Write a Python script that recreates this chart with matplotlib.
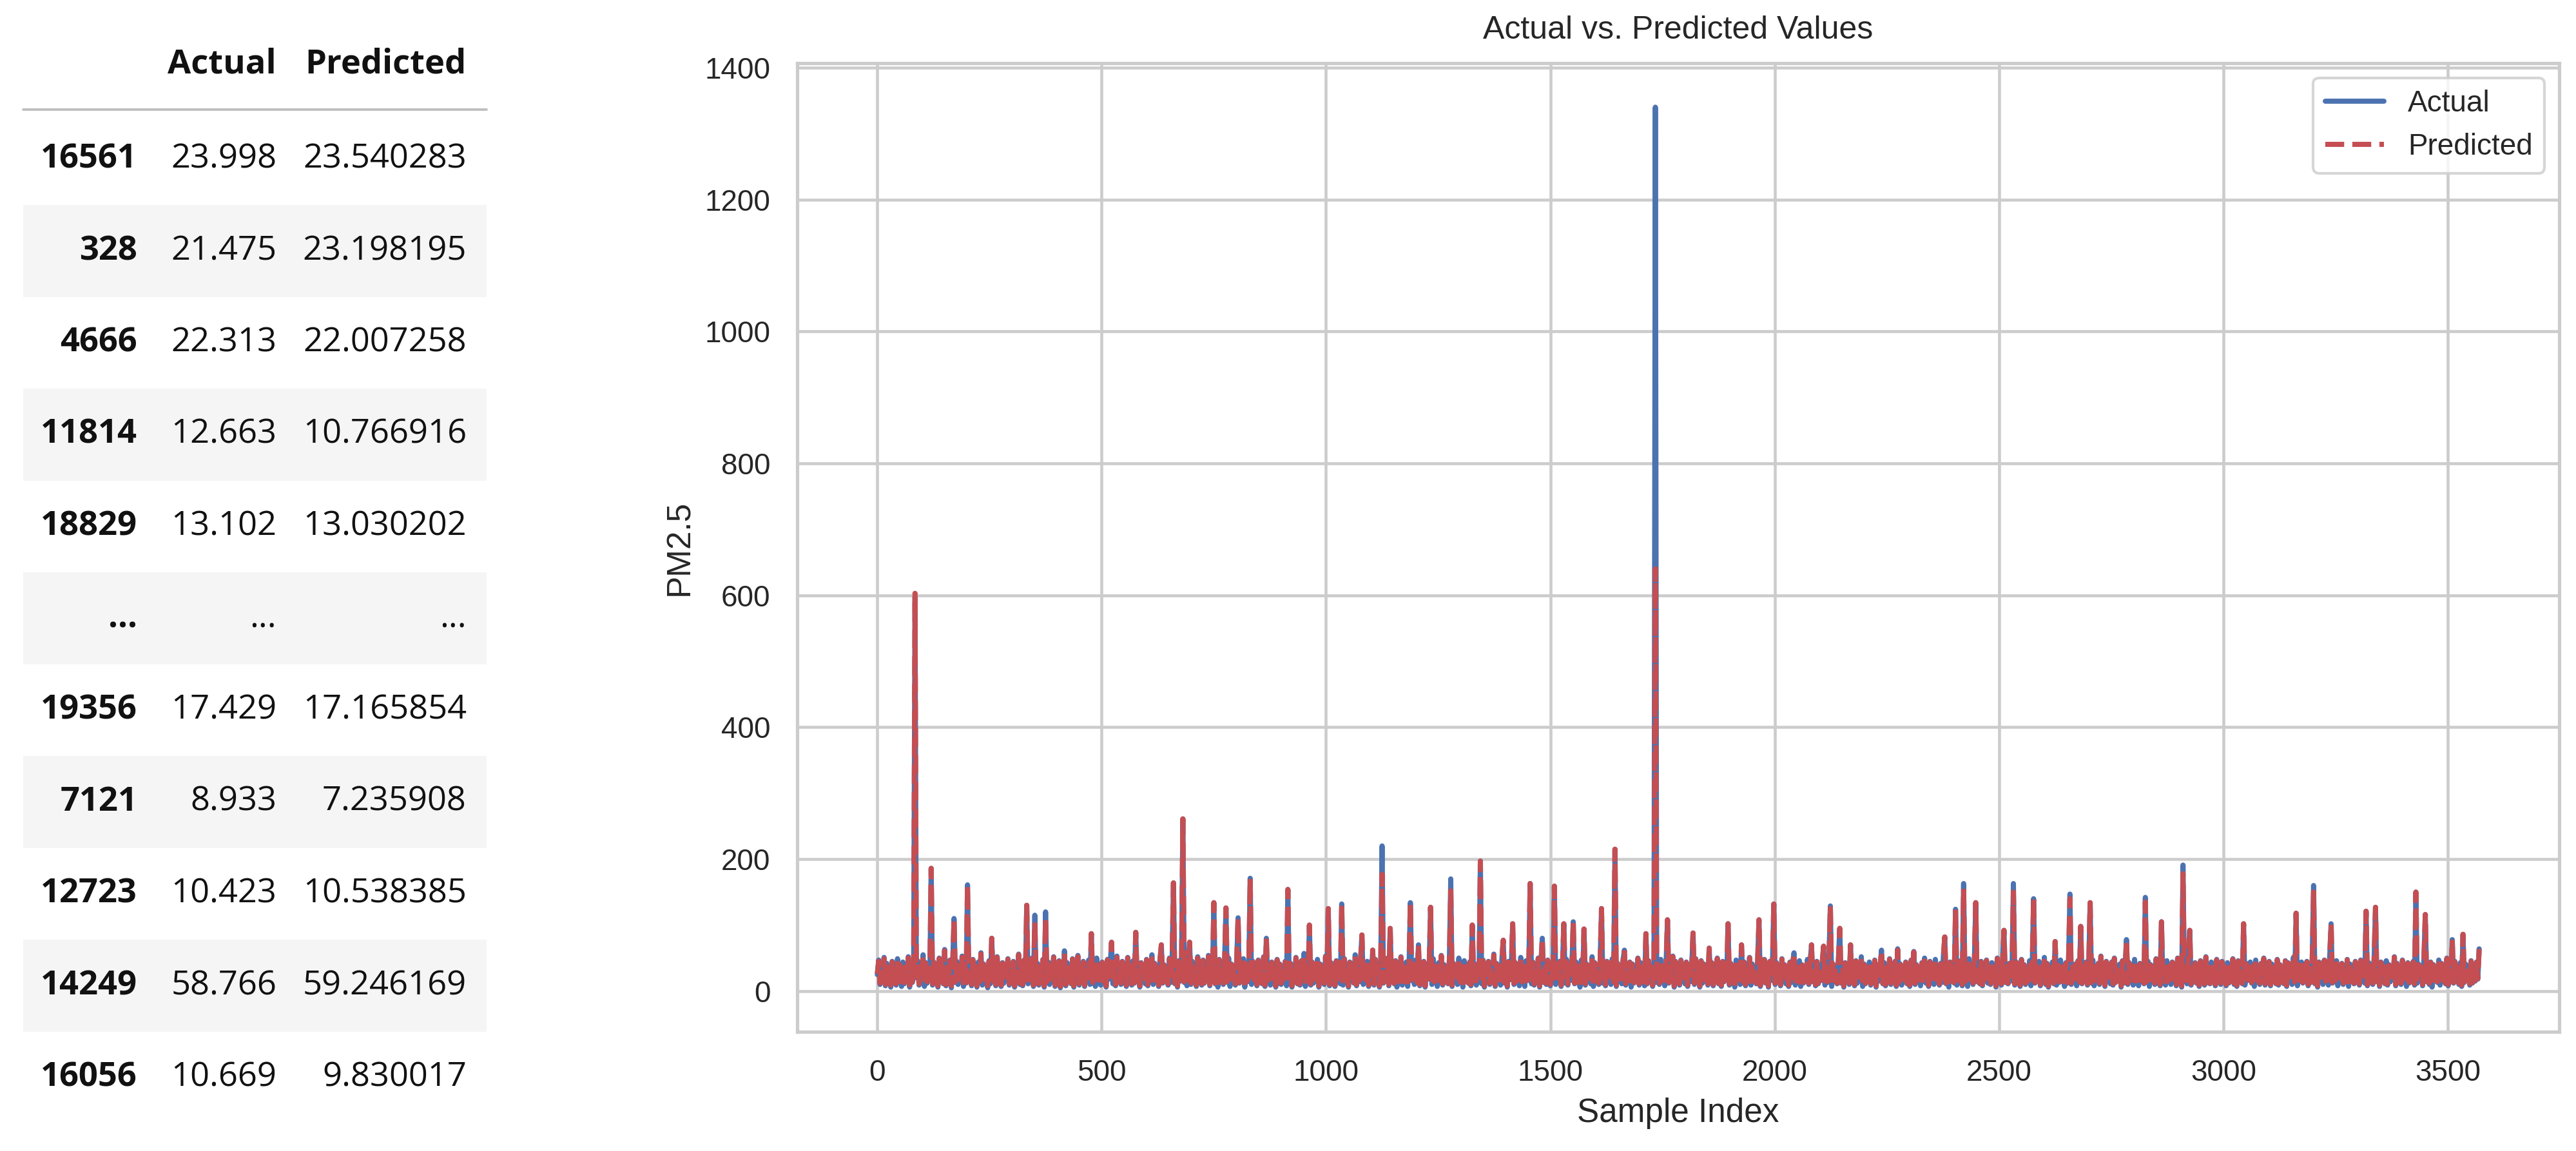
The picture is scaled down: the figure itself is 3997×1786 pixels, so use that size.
import numpy as np
import matplotlib.pyplot as plt
import seaborn as sns
from matplotlib.patches import Rectangle
from matplotlib.lines import Line2D

# left part: head and tail of the results DataFrame
table_index = ['16561', '328', '4666', '11814', '18829', '...', '19356', '7121', '12723', '14249', '16056']
table_actual = ['23.998', '21.475', '22.313', '12.663', '13.102', '...', '17.429', '8.933', '10.423', '58.766', '10.669']
table_predicted = ['23.540283', '23.198195', '22.007258', '10.766916', '13.030202', '...',
                   '17.165854', '7.235908', '10.538385', '59.246169', '9.830017']
table_columns = ['Actual', 'Predicted']

# right part: PM2.5 values, one value every 3 samples (0 .. 3570),
# each row holds 20 values = 60 samples
sample_step = 3
actual = [
    25, 47, 10, 38, 14, 51, 8, 42, 19, 36, 6, 45, 12, 33, 9, 49, 16, 40, 7, 44,
    11, 37, 18, 52, 6, 41, 13, 35, 598, 20, 46, 9, 39, 15, 55, 7, 43, 12, 34, 17,
    186, 9, 44, 14, 38, 6, 50, 18, 41, 11, 63, 8, 36, 16, 47, 5, 40, 110, 13, 45,
    10, 39, 17, 53, 7, 42, 12, 161, 15, 37, 8, 48, 19, 35, 6, 44, 13, 58, 9, 41,
    16, 36, 5, 46, 11, 80, 14, 40, 8, 52, 18, 38, 7, 43, 12, 34, 20, 49, 9, 37,
    13, 45, 6, 39, 17, 56, 10, 41, 8, 47, 15, 130, 11, 36, 19, 50, 7, 115, 12, 42,
    9, 38, 16, 48, 6, 120, 13, 44, 10, 35, 18, 52, 7, 40, 14, 46, 5, 37, 12, 61,
    8, 43, 15, 36, 11, 49, 6, 40, 17, 54, 9, 38, 13, 45, 7, 34, 19, 47, 10, 87,
    12, 41, 7, 50, 16, 37, 9, 44, 14, 35, 6, 48, 18, 39, 74, 11, 42, 8, 53, 15,
    36, 10, 45, 13, 38, 7, 51, 17, 40, 9, 46, 12, 89, 15, 37, 6, 43, 19, 35, 11,
    48, 8, 39, 14, 55, 10, 42, 16, 36, 7, 47, 70, 12, 40, 18, 34, 9, 50, 13, 44,
    164, 11, 38, 6, 46, 15, 41, 261, 13, 49, 8, 37, 74, 10, 45, 17, 35, 7, 52, 14,
    40, 9, 47, 12, 36, 18, 54, 8, 43, 15, 134, 11, 39, 6, 48, 16, 37, 10, 44, 126,
    13, 50, 7, 41, 17, 38, 9, 46, 111, 12, 35, 19, 49, 6, 42, 14, 37, 171, 10, 45,
    16, 39, 8, 47, 13, 36, 11, 52, 7, 80, 15, 40, 9, 44, 18, 34, 6, 48, 12, 41,
    10, 37, 17, 45, 8, 154, 14, 42, 6, 38, 19, 51, 11, 36, 9, 46, 13, 57, 7, 40,
    15, 100, 9, 44, 12, 39, 18, 48, 6, 41, 14, 35, 10, 53, 16, 125, 8, 43, 13, 37,
    7, 46, 17, 40, 11, 132, 9, 49, 15, 38, 6, 44, 19, 36, 12, 55, 8, 42, 14, 47,
    85, 10, 39, 16, 45, 7, 37, 13, 62, 9, 48, 18, 41, 6, 43, 220, 12, 36, 15, 50,
    8, 95, 14, 38, 11, 46, 6, 40, 17, 52, 9, 37, 13, 44, 7, 35, 134, 16, 42, 10,
    47, 12, 70, 8, 39, 15, 45, 6, 41, 18, 36, 127, 10, 49, 13, 38, 7, 43, 16, 54,
    9, 40, 14, 37, 11, 48, 170, 7, 42, 17, 35, 10, 50, 13, 39, 6, 46, 15, 38, 12,
    44, 8, 100, 16, 41, 9, 36, 14, 197, 11, 47, 6, 39, 18, 45, 10, 37, 13, 56, 7,
    42, 15, 38, 9, 49, 77, 12, 40, 6, 45, 17, 36, 102, 10, 43, 14, 35, 8, 51, 13,
    39, 7, 46, 16, 37, 163, 11, 44, 9, 38, 18, 50, 6, 41, 80, 13, 36, 10, 47, 15,
    8, 42, 14, 159, 10, 39, 17, 45, 7, 37, 102, 12, 48, 9, 40, 16, 35, 105, 11, 44,
    13, 38, 6, 47, 15, 94, 9, 41, 18, 36, 11, 52, 7, 43, 14, 39, 10, 46, 125, 12,
    40, 8, 45, 16, 37, 10, 49, 13, 215, 7, 42, 18, 35, 11, 47, 62, 9, 38, 15, 44,
    6, 41, 12, 36, 17, 50, 9, 43, 14, 39, 8, 87, 11, 46, 16, 37, 7, 44, 1340, 13,
    40, 10, 48, 15, 36, 8, 42, 108, 12, 38, 18, 53, 6, 45, 13, 37, 9, 47, 16, 39,
    11, 44, 7, 40, 14, 35, 88, 10, 49, 17, 38, 6, 46, 12, 41, 15, 36, 9, 65, 13,
    43, 8, 37, 16, 50, 11, 40, 7, 45, 14, 36, 18, 102, 9, 42, 12, 38, 6, 47, 15,
    39, 10, 70, 13, 44, 8, 37, 17, 51, 9, 41, 15, 35, 11, 46, 108, 7, 40, 14, 48,
    12, 38, 6, 45, 16, 39, 132, 10, 43, 14, 36, 8, 49, 18, 40, 11, 37, 7, 44, 13,
    41, 58, 9, 38, 15, 46, 7, 40, 12, 35, 17, 48, 10, 42, 70, 14, 37, 8, 45, 11,
    39, 16, 44, 68, 9, 37, 13, 50, 129, 7, 41, 15, 36, 11, 47, 95, 12, 38, 6, 43,
    17, 40, 10, 70, 14, 36, 8, 46, 12, 39, 16, 52, 7, 41, 11, 35, 18, 44, 9, 38,
    13, 47, 6, 40, 15, 37, 62, 11, 43, 8, 36, 17, 49, 10, 39, 14, 45, 7, 64, 12,
    41, 9, 38, 16, 44, 11, 36, 7, 47, 13, 60, 10, 40, 18, 35, 8, 43, 15, 50, 12,
    37, 7, 45, 14, 39, 10, 48, 16, 36, 9, 42, 13, 53, 82, 11, 40, 6, 44, 17, 38,
    12, 124, 9, 46, 15, 38, 8, 163, 13, 41, 7, 49, 17, 37, 10, 44, 134, 14, 36, 11,
    45, 8, 39, 16, 47, 12, 35, 10, 43, 18, 38, 6, 50, 14, 40, 9, 46, 92, 13, 37,
    11, 42, 15, 36, 163, 9, 44, 13, 38, 7, 48, 17, 40, 10, 35, 14, 46, 8, 41, 140,
    12, 39, 16, 45, 8, 37, 14, 51, 10, 42, 6, 38, 18, 44, 11, 75, 9, 40, 13, 47,
    15, 36, 7, 43, 12, 49, 147, 10, 38, 17, 41, 8, 46, 13, 98, 11, 37, 16, 44, 9,
    40, 134, 12, 47, 8, 36, 15, 42, 10, 53, 14, 39, 7, 45, 18, 37, 11, 44, 9, 50,
    13, 38, 16, 41, 6, 46, 12, 35, 78, 10, 43, 17, 39, 9, 48, 14, 36, 8, 42, 15,
    37, 11, 142, 13, 45, 7, 40, 16, 36, 10, 49, 12, 43, 8, 105, 15, 38, 9, 46, 14,
    39, 10, 44, 17, 37, 8, 50, 13, 41, 6, 191, 15, 38, 11, 47, 92, 9, 36, 14, 43,
    12, 40, 7, 46, 16, 38, 9, 52, 13, 35, 11, 44, 18, 39, 8, 48, 14, 37, 10, 45,
    15, 38, 8, 43, 12, 36, 17, 49, 10, 40, 7, 46, 14, 37, 11, 102, 9, 42, 16, 35,
    44, 12, 39, 7, 47, 15, 36, 10, 42, 18, 50, 9, 38, 13, 45, 8, 41, 16, 37, 11,
    48, 9, 40, 14, 35, 11, 46, 7, 43, 17, 38, 10, 51, 13, 118, 8, 39, 15, 44, 12,
    37, 16, 45, 8, 40, 13, 49, 160, 11, 38, 6, 44, 17, 36, 10, 47, 14, 41, 9, 53,
    102, 12, 39, 15, 46, 8, 37, 18, 42, 10, 35, 14, 48, 7, 41, 16, 38, 11, 45, 13,
    40, 9, 47, 15, 36, 12, 121, 8, 43, 17, 39, 10, 50, 127, 14, 37, 7, 44, 16, 38,
    11, 46, 9, 40, 14, 36, 18, 52, 8, 42, 13, 38, 10, 47, 16, 35, 7, 43, 12, 39,
    15, 45, 9, 150, 12, 41, 17, 37, 8, 49, 116, 14, 38, 10, 44, 6, 40, 16, 36, 13,
    47, 9, 42, 15, 37, 11, 50, 8, 40, 14, 78, 12, 45, 17, 38, 10, 43, 7, 86, 13,
    41, 16, 38, 9, 46, 12, 40, 15, 44, 18, 64,
]
predicted = [
    26, 45, 12, 37, 15, 49, 10, 41, 20, 35, 9, 44, 14, 33, 11, 47, 17, 39, 9, 43,
    13, 36, 19, 50, 9, 40, 14, 35, 603, 21, 45, 11, 38, 16, 53, 9, 42, 14, 34, 18,
    186, 11, 43, 15, 37, 8, 49, 19, 40, 12, 61, 10, 36, 17, 46, 8, 39, 110, 14, 44,
    12, 38, 18, 51, 9, 41, 13, 161, 16, 37, 10, 47, 20, 35, 8, 43, 14, 56, 11, 40,
    17, 36, 8, 45, 12, 80, 15, 39, 10, 51, 19, 37, 9, 42, 13, 34, 21, 48, 11, 37,
    14, 44, 8, 38, 18, 55, 12, 40, 10, 46, 16, 130, 12, 36, 20, 49, 9, 105, 13, 41,
    11, 37, 17, 47, 8, 110, 14, 43, 12, 35, 19, 51, 9, 39, 15, 45, 7, 37, 13, 59,
    10, 42, 16, 36, 12, 48, 8, 39, 18, 52, 11, 37, 14, 44, 9, 34, 20, 46, 12, 87,
    13, 40, 9, 49, 17, 37, 11, 43, 15, 35, 8, 47, 19, 38, 74, 12, 41, 10, 51, 16,
    36, 12, 44, 14, 37, 9, 50, 18, 39, 11, 45, 13, 89, 16, 37, 8, 42, 20, 35, 12,
    47, 10, 38, 15, 53, 12, 41, 17, 36, 9, 46, 70, 13, 39, 19, 34, 11, 49, 14, 43,
    164, 12, 37, 8, 45, 16, 40, 261, 14, 48, 10, 37, 74, 12, 44, 18, 35, 9, 50, 15,
    39, 11, 46, 13, 36, 19, 52, 10, 42, 16, 134, 12, 38, 8, 47, 17, 37, 12, 43, 126,
    14, 49, 9, 40, 18, 38, 11, 45, 111, 13, 35, 20, 48, 8, 41, 15, 37, 171, 12, 44,
    17, 38, 10, 46, 14, 36, 12, 51, 9, 80, 16, 39, 11, 43, 19, 34, 8, 47, 13, 40,
    12, 37, 18, 44, 10, 154, 15, 41, 8, 38, 20, 50, 12, 36, 11, 45, 14, 55, 9, 39,
    16, 100, 11, 43, 13, 38, 19, 47, 8, 40, 15, 35, 12, 52, 17, 125, 10, 42, 14, 37,
    9, 45, 18, 39, 12, 132, 11, 48, 16, 37, 8, 43, 20, 36, 13, 53, 10, 41, 15, 46,
    85, 12, 38, 17, 44, 9, 37, 14, 62, 11, 47, 19, 40, 8, 42, 177, 13, 36, 16, 49,
    10, 95, 15, 37, 12, 45, 8, 39, 18, 51, 11, 37, 14, 43, 9, 35, 134, 17, 41, 12,
    46, 13, 70, 10, 38, 16, 44, 8, 40, 19, 36, 127, 12, 48, 14, 37, 9, 42, 17, 53,
    11, 39, 15, 37, 12, 47, 152, 9, 41, 18, 35, 12, 49, 14, 38, 8, 45, 16, 37, 13,
    43, 10, 100, 17, 40, 11, 36, 15, 197, 12, 46, 8, 38, 19, 44, 12, 37, 14, 54, 9,
    41, 16, 37, 11, 48, 77, 13, 39, 8, 44, 18, 36, 102, 12, 42, 15, 35, 10, 50, 14,
    38, 9, 45, 17, 37, 163, 12, 43, 11, 37, 19, 49, 8, 40, 80, 14, 36, 12, 46, 16,
    10, 41, 15, 159, 12, 38, 18, 44, 9, 37, 102, 13, 47, 11, 39, 17, 35, 105, 12, 43,
    14, 37, 8, 46, 16, 94, 11, 40, 19, 36, 12, 51, 9, 42, 15, 38, 12, 45, 125, 13,
    39, 10, 44, 17, 37, 12, 48, 14, 215, 9, 41, 19, 35, 12, 46, 62, 11, 37, 16, 43,
    8, 40, 13, 36, 18, 49, 11, 42, 15, 38, 10, 87, 12, 45, 17, 37, 9, 43, 640, 14,
    39, 12, 47, 16, 36, 10, 41, 108, 13, 37, 19, 52, 8, 44, 14, 37, 11, 46, 17, 38,
    12, 43, 9, 39, 15, 35, 88, 12, 48, 18, 37, 8, 45, 13, 40, 16, 36, 11, 65, 14,
    42, 10, 37, 17, 49, 12, 39, 9, 44, 15, 36, 19, 102, 11, 41, 13, 37, 8, 46, 16,
    38, 12, 70, 14, 43, 10, 37, 18, 50, 11, 40, 16, 35, 12, 45, 108, 9, 39, 15, 47,
    13, 37, 8, 44, 17, 38, 132, 12, 42, 15, 36, 10, 48, 19, 39, 12, 37, 9, 43, 14,
    40, 58, 11, 37, 16, 45, 9, 39, 13, 35, 18, 47, 12, 41, 70, 15, 37, 10, 44, 12,
    38, 17, 43, 68, 11, 37, 14, 49, 129, 9, 40, 16, 36, 12, 46, 95, 13, 37, 8, 42,
    18, 39, 12, 70, 15, 36, 10, 45, 13, 38, 17, 51, 9, 40, 12, 35, 19, 43, 11, 37,
    14, 46, 8, 39, 16, 37, 61, 12, 42, 10, 36, 18, 48, 12, 38, 15, 44, 9, 62, 13,
    40, 11, 37, 17, 43, 12, 36, 9, 46, 14, 59, 12, 39, 19, 35, 10, 42, 16, 49, 13,
    37, 9, 44, 15, 38, 12, 47, 17, 36, 11, 41, 14, 52, 82, 12, 39, 8, 43, 18, 37,
    13, 124, 11, 45, 16, 37, 10, 155, 14, 40, 9, 48, 18, 37, 12, 43, 134, 15, 36, 12,
    44, 10, 38, 17, 46, 13, 35, 12, 42, 19, 37, 8, 49, 15, 39, 11, 45, 92, 14, 37,
    12, 41, 16, 36, 150, 11, 43, 14, 37, 9, 47, 18, 39, 12, 35, 15, 45, 10, 40, 140,
    13, 38, 17, 44, 10, 37, 15, 50, 12, 41, 8, 37, 19, 43, 12, 75, 11, 39, 14, 46,
    16, 36, 9, 42, 13, 48, 140, 12, 37, 18, 40, 10, 45, 14, 98, 12, 37, 17, 43, 11,
    39, 134, 13, 46, 10, 36, 16, 41, 12, 52, 15, 38, 9, 44, 19, 37, 12, 43, 11, 49,
    14, 37, 17, 40, 8, 45, 13, 35, 78, 12, 42, 18, 38, 11, 47, 15, 36, 10, 41, 16,
    37, 12, 135, 14, 44, 9, 39, 17, 36, 12, 48, 13, 42, 10, 105, 16, 37, 11, 45, 15,
    38, 12, 43, 18, 37, 10, 49, 14, 40, 8, 178, 16, 37, 12, 46, 92, 11, 36, 15, 42,
    13, 39, 9, 45, 17, 37, 11, 51, 14, 35, 12, 43, 19, 38, 10, 47, 15, 37, 12, 44,
    16, 37, 10, 42, 13, 36, 18, 48, 12, 39, 9, 45, 15, 37, 12, 102, 11, 41, 17, 35,
    43, 13, 38, 9, 46, 16, 36, 12, 41, 19, 49, 11, 37, 14, 44, 10, 40, 17, 37, 12,
    47, 11, 39, 15, 35, 12, 45, 9, 42, 18, 37, 12, 50, 14, 118, 10, 38, 16, 43, 13,
    37, 17, 44, 10, 39, 14, 48, 150, 12, 37, 8, 43, 18, 36, 12, 46, 15, 40, 11, 52,
    102, 13, 38, 16, 45, 10, 37, 19, 41, 12, 35, 15, 47, 9, 40, 17, 37, 12, 44, 14,
    39, 11, 46, 16, 36, 13, 121, 10, 42, 18, 38, 12, 49, 127, 15, 37, 9, 43, 17, 37,
    12, 45, 11, 39, 15, 36, 19, 51, 10, 41, 14, 37, 12, 46, 17, 35, 9, 42, 13, 38,
    16, 44, 11, 150, 13, 40, 18, 37, 10, 48, 116, 15, 37, 12, 43, 8, 39, 17, 36, 14,
    46, 11, 41, 16, 37, 12, 49, 10, 39, 15, 78, 13, 44, 18, 37, 12, 42, 9, 86, 14,
    40, 17, 37, 11, 45, 13, 39, 16, 43, 19, 64,
]
sample_index = np.arange(len(actual)) * sample_step

sns.set_theme(style='whitegrid')
plt.rcParams['font.family'] = ['Liberation Sans', 'DejaVu Sans']

W, H = 3997, 1786
fig = plt.figure(figsize=(W / 300, H / 300), dpi=300)


def fx(px):
    return px / W


def fy(py):
    return 1 - py / H


# ---- table (pandas html look) ----
tbl_font = ['Open Sans', 'Liberation Sans', 'DejaVu Sans']
tbl_size = 12.6
txt_color = '#111111'
col_right = [213, 429, 724]
for j, name in enumerate(table_columns):
    fig.text(fx(col_right[j + 1]), fy(100), name, ha='right', va='center', family=tbl_font,
             fontsize=tbl_size, fontweight='bold', color=txt_color)
fig.add_artist(Line2D([fx(36), fx(755)], [fy(170), fy(170)], transform=fig.transFigure,
                      color='#bdbdbd', lw=0.9))

row_y0, row_h = 247, 142.5
for k in range(len(table_index)):
    yc = row_y0 + k * row_h
    if k % 2 == 1:
        fig.add_artist(Rectangle((fx(36), fy(yc + row_h / 2)), fx(755) - fx(36), row_h / H,
                                 transform=fig.transFigure, facecolor='#f5f5f5',
                                 edgecolor='none', zorder=0))
    fig.text(fx(col_right[0]), fy(yc), table_index[k], ha='right', va='center', family=tbl_font,
             fontsize=tbl_size, fontweight='bold', color=txt_color)
    fig.text(fx(col_right[1]), fy(yc), table_actual[k], ha='right', va='center', family=tbl_font,
             fontsize=tbl_size, color=txt_color)
    fig.text(fx(col_right[2]), fy(yc), table_predicted[k], ha='right', va='center', family=tbl_font,
             fontsize=tbl_size, color=txt_color)

# ---- line chart ----
ax = fig.add_axes([fx(1237), fy(1601), fx(3971) - fx(1237), (1601 - 98) / H])
ax.plot(sample_index, actual, color='#4C72B0', lw=1.9, label='Actual')
ax.plot(sample_index, predicted, color='#C44E52', lw=1.9, ls='--', label='Predicted')

ax.set_title('Actual vs. Predicted Values', fontsize=12, pad=9, color='#262626')
ax.set_xlabel('Sample Index', fontsize=12.3, labelpad=4, color='#262626')
ax.set_ylabel('PM2.5', fontsize=12.3, labelpad=3.5, color='#262626')
ax.tick_params(labelsize=11, pad=10, colors='#262626', length=0)
ax.grid(True, color='#cccccc', lw=1.1)
for sp in ax.spines.values():
    sp.set_color('#cccccc')
    sp.set_linewidth(1.25)
ax.legend(loc='upper right', fontsize=11, frameon=True, edgecolor='#cccccc')

fig.savefig('out.png', dpi=300)
